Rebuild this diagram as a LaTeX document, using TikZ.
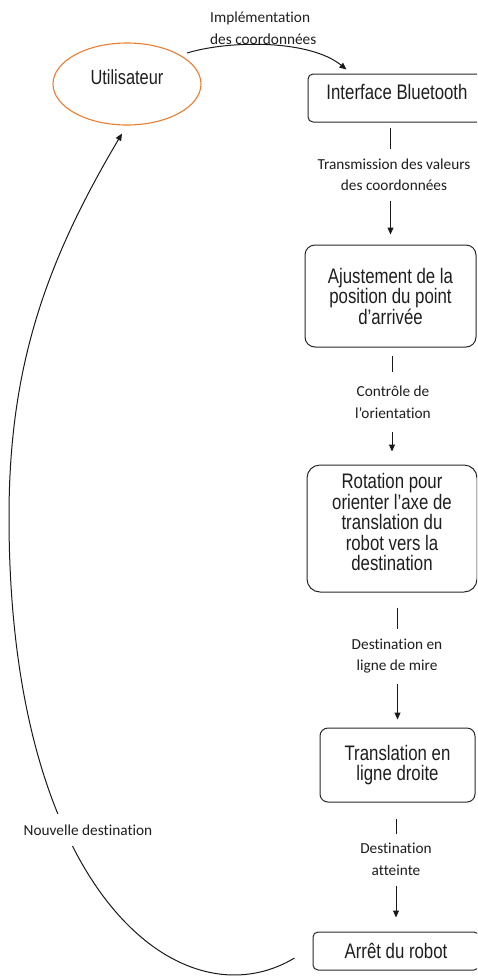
\documentclass[tikz,border=0pt]{standalone}
\usepackage{fontspec}
\usepackage{tikz}
\usetikzlibrary{positioning,calc,arrows.meta,shapes.geometric}
\newfontfamily\boxfont[FakeStretch=0.8]{Liberation Sans}
\newfontfamily\lblfont[Ligatures={NoCommon,NoContextual}]{Carlito}
\definecolor{userOrange}{RGB}{237, 125, 49}
\definecolor{boxDark}{RGB}{40, 40, 40}
\definecolor{lineDark}{RGB}{25, 25, 25}
\definecolor{textDark}{RGB}{30, 30, 30}

\begin{document}
\begin{tikzpicture}[
  x=1pt,y=-1pt,
  every node/.style={align=center},
  stepbox/.style={draw=boxDark, line width=1pt, inner sep=0pt, text=textDark, font=\boxfont\fontsize{21}{20.5}\selectfont},
  boxtxt/.style={inner sep=0pt, text=textDark, font=\boxfont\fontsize{21}{20.5}\selectfont},
  userell/.style={ellipse, draw=userOrange, line width=1.1pt, inner sep=0pt, minimum width=148pt, minimum height=82pt, text=textDark, font=\boxfont\fontsize{20.5}{20}\selectfont},
  lbl/.style={inner sep=0pt, text=textDark, font=\lblfont\fontsize{15.3}{21.5}\selectfont},
  lblgap/.style={lbl, fill=white, inner xsep=2pt, minimum height=52pt},
  arr/.style={draw=lineDark, line width=1pt, -{Triangle[length=7pt,width=6pt]}}
]
\path[use as bounding box] (0,0) rectangle (477,978);
\clip (0,0) rectangle (477,978);

\node[userell, text height=13pt, text depth=13pt] (user) at (127,84) {Utilisateur};

\node[stepbox, rounded corners=5pt, minimum width=178pt, minimum height=48pt,
  label={[boxtxt, yshift=6pt]center:Interface Bluetooth}] (iface) at (397,98) {};
\node[stepbox, rounded corners=10pt, minimum width=171pt, minimum height=102pt] (ajust) at (390.5,296)
  {Ajustement de la\\position du point\\d’arrivée};
\node[stepbox, rounded corners=13pt, minimum width=170pt, minimum height=127pt,
  label={[boxtxt, yshift=6.5pt]center:{Rotation pour\\orienter l’axe de\\translation du\\robot vers la\\destination}}] (rot) at (392,528.5) {};
\node[stepbox, rounded corners=8pt, minimum width=155pt, minimum height=74pt] (trans) at (397.5,765)
  {Translation en\\ligne droite};
\node[stepbox, rounded corners=5pt, minimum width=166pt, minimum height=38pt] (stop) at (396,951)
  {Arrêt du robot};

% user -> bluetooth
\coordinate (c1) at ($(user.center)+(60,-31)$);
\coordinate (c2) at ($(iface.north west)+(39,-4)$);
\draw[arr] (c1) .. controls +(43,-13) and +(-37,-30) .. (c2);
\node[lbl, align=left, anchor=west] (impl) at (210,28) {Implémentation\\des coordonnées};

% chain down the right side
\draw[arr, shorten <=5pt, shorten >=10pt] (iface.south -| ajust) -- (ajust);
\draw[arr, shorten <=8pt, shorten >=13pt] (ajust.south -| rot) -- (rot);
\draw[arr, shorten <=15pt, shorten >=8pt] (rot.south -| trans) -- (trans);
\draw[arr, shorten <=16pt, shorten >=14pt] (trans.south -| stop) -- (stop);

\node[lblgap] (l1) at (394,174.5) {Transmission des valeurs\\des coordonnées};
\node[lblgap, minimum height=60pt] (l2) at (393,402) {Contrôle de\\l’orientation};
\node[lblgap, minimum height=55pt] (l3) at (397,656) {Destination en\\ligne de mire};
\node[lblgap] (l4) at (396,859.5) {Destination\\atteinte};

% back to the user
\coordinate (c3) at ($(stop.west)+(-18,7)$);
\coordinate (c4) at ($(user.south)+(-5,8)$);
\draw[arr] (c3) .. controls +(-111,67) and (9,897) .. (9,517)
  .. controls (9,367) and +(-76.5,129) .. (c4);
\node[lbl, fill=white, minimum height=32pt] (newdest) at (88,830) {Nouvelle destination};
\end{tikzpicture}
\end{document}
